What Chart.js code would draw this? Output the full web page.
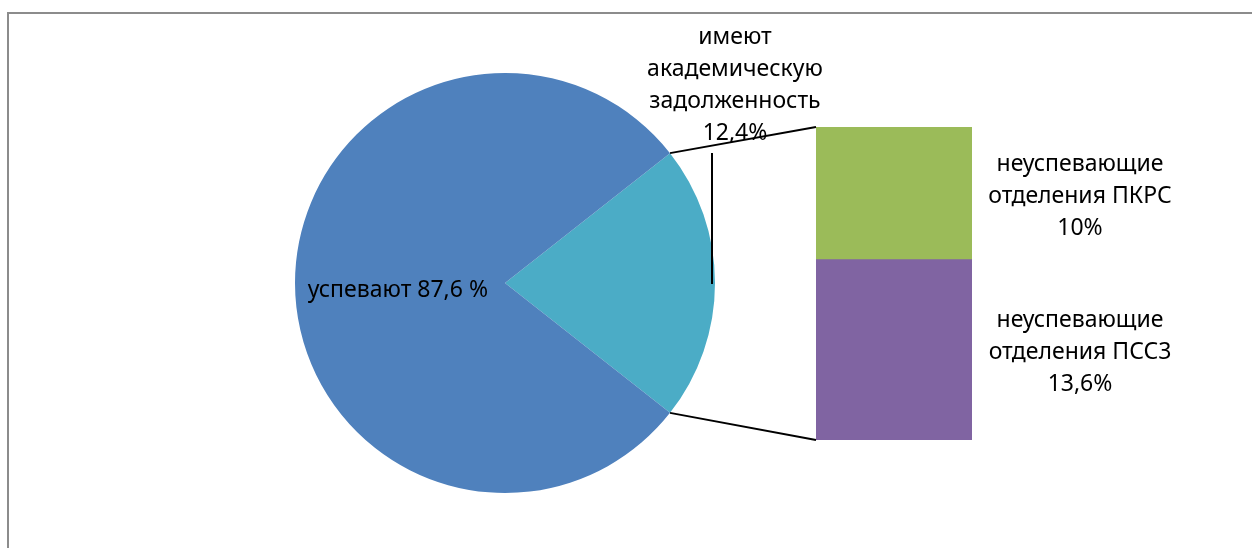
<!DOCTYPE html>
<html>
<head>
<meta charset="utf-8">
<script src="https://cdn.jsdelivr.net/npm/chart.js@4.4.1/dist/chart.umd.min.js"></script>
<style>
  html, body { margin: 0; padding: 0; background: #fff; overflow: hidden; }
  #wrap { position: relative; width: 1252px; height: 548px; }
  #frame { position: absolute; left: 7px; top: 12px; width: 1300px; height: 600px; border: 2px solid #8c8c8c; box-sizing: border-box; }
  canvas { position: absolute; left: 0; top: 0; }
</style>
</head>
<body>
<div id="wrap">
  <div id="frame"></div>
  <canvas id="pie" width="1252" height="548"></canvas>
  <canvas id="bar" width="1252" height="548"></canvas>
</div>
<script>
// pie: main part and the "other" slice that is split out into the bar
const pieLabels = ['успевают 87,6 %', ['имеют', 'академическую', 'задолженность', '12,4%']];
const pieColors = ['#4F81BD', '#4BACC6'];
// bar (bottom to top)
const barLabels = [['неуспевающие', 'отделения ПСС3', '13,6%'], ['неуспевающие', 'отделения ПКРС', '10%']];
const barValues = [13.6, 10];
const barColors = ['#8064A2', '#9BBB59'];
const mainValue = 87.6;
const otherValue = barValues.reduce((a, b) => a + b, 0);

const FONT = '23px "Noto Sans", "DejaVu Sans", sans-serif';
const LINE_H = 32;

function drawLines(ctx, lines, x, y, align) {
    ctx.save();
    ctx.font = FONT;
    ctx.fillStyle = '#000';
    ctx.textAlign = align || 'center';
    ctx.textBaseline = 'middle';
    const top = y - (lines.length - 1) * LINE_H / 2;
    lines.forEach((l, i) => ctx.fillText(l, x, top + i * LINE_H));
    ctx.restore();
}

// place teal slice centred on the right side (3 o'clock)
const otherDeg = otherValue / (mainValue + otherValue) * 360;

const pieChart = new Chart(document.getElementById('pie').getContext('2d'), {
    type: 'pie',
    data: {
        labels: ['успевают', 'имеют академическую задолженность'],
        datasets: [{
            data: [otherValue, mainValue],
            backgroundColor: [pieColors[1], pieColors[0]],
            borderWidth: 0
        }]
    },
    options: {
        responsive: false,
        animation: false,
        rotation: 90 - otherDeg / 2,
        layout: { padding: { left: 295, right: 537, top: 73, bottom: 55 } },
        plugins: { legend: { display: false }, tooltip: { enabled: false } }
    }
});

new Chart(document.getElementById('bar').getContext('2d'), {
    type: 'bar',
    data: {
        labels: [''],
        datasets: barValues.map((v, i) => ({
            data: [v],
            backgroundColor: barColors[i],
            borderWidth: 0,
            barPercentage: 1,
            categoryPercentage: 1
        }))
    },
    options: {
        responsive: false,
        animation: false,
        layout: { padding: { left: 816, right: 280, top: 127, bottom: 108 } },
        scales: {
            x: { display: false, stacked: true },
            y: { display: false, stacked: true, min: 0, max: otherValue }
        },
        plugins: { legend: { display: false }, tooltip: { enabled: false } }
    },
    plugins: [{
        afterDraw: function(chart) {
            const ctx = chart.ctx;
            const arc = pieChart.getDatasetMeta(0).data[0];
            const main = pieChart.getDatasetMeta(0).data[1];
            const cx = arc.x, cy = arc.y, r = arc.outerRadius;
            const top = chart.getDatasetMeta(1).data[0];
            const bottom = chart.getDatasetMeta(0).data[0];
            const left = top.x - top.width / 2;

            // connectors from slice edges to the bar corners
            ctx.save();
            ctx.strokeStyle = '#000';
            ctx.lineWidth = 2;
            ctx.beginPath();
            ctx.moveTo(cx + r * Math.cos(arc.startAngle), cy + r * Math.sin(arc.startAngle));
            ctx.lineTo(left, top.y);
            ctx.moveTo(cx + r * Math.cos(arc.endAngle), cy + r * Math.sin(arc.endAngle));
            ctx.lineTo(left, bottom.base);
            // leader line for the slice label
            const ax = cx + r - 3;
            ctx.moveTo(ax, cy + 1);
            ctx.lineTo(ax, cy - 130);
            ctx.stroke();
            ctx.restore();

            // slice labels
            const mid = (main.startAngle + main.endAngle) / 2;
            drawLines(ctx, [pieLabels[0]], cx + Math.cos(mid) * r * 0.51, cy + 7);
            drawLines(ctx, pieLabels[1], ax + 23, cy - 198);

            // bar labels
            chart.data.datasets.forEach((ds, i) => {
                const el = chart.getDatasetMeta(i).data[0];
                drawLines(ctx, barLabels[i], el.x + 186, (el.y + el.base) / 2 + 3);
            });
        }
    }]
});
</script>
</body>
</html>
